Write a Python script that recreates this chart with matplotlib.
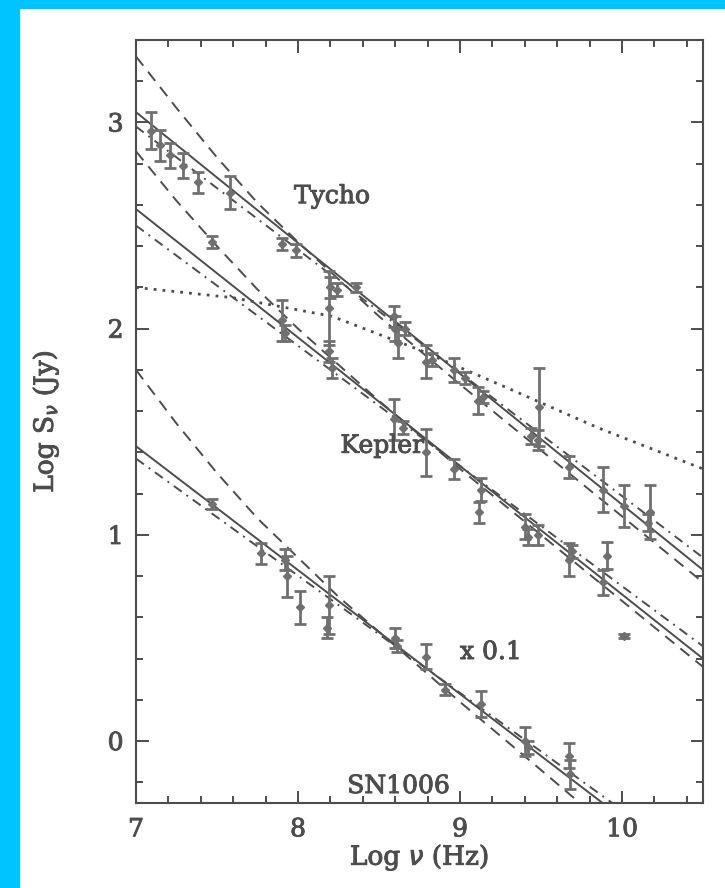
import matplotlib
matplotlib.use("Agg")
import matplotlib.pyplot as plt
import matplotlib.patheffects as pe
from matplotlib.patches import Rectangle
from matplotlib.ticker import MultipleLocator

# --- measured points (log nu, log S, error) ---
tycho_x = [7.09, 7.15, 7.21, 7.29, 7.38, 7.58, 7.90, 7.99, 8.19, 8.20, 8.24, 8.36,
           8.59, 8.60, 8.62, 8.66, 8.79, 8.83, 8.96, 9.03, 9.11, 9.14, 9.44, 9.48,
           9.49, 9.67, 9.88, 10.01, 10.17, 10.16]
tycho_y = [2.96, 2.89, 2.84, 2.79, 2.71, 2.66, 2.41, 2.38, 2.10, 2.20, 2.19, 2.20,
           2.06, 2.00, 1.93, 2.00, 1.84, 1.85, 1.80, 1.76, 1.65, 1.67, 1.48, 1.46,
           1.62, 1.33, 1.22, 1.14, 1.11, 1.06]
tycho_err = [0.09, 0.075, 0.06, 0.06, 0.05, 0.08, 0.03, 0.03, 0.18, 0.05, 0.03, 0.02,
             0.05, 0.06, 0.07, 0.03, 0.08, 0.03, 0.06, 0.03, 0.065, 0.03, 0.04, 0.05,
             0.19, 0.055, 0.11, 0.10, 0.13, 0.04]

kepler_x = [7.47, 7.90, 7.92, 8.19, 8.21, 8.59, 8.65, 8.79, 8.96, 9.13, 9.12, 9.40,
            9.42, 9.48, 9.67, 9.69, 9.91, 9.88, 10.01]
kepler_y = [2.42, 2.04, 1.98, 1.89, 1.81, 1.56, 1.52, 1.40, 1.32, 1.22, 1.11, 1.04,
            0.99, 1.00, 0.88, 0.92, 0.90, 0.77, 0.51]
kepler_err = [0.03, 0.10, 0.04, 0.05, 0.05, 0.10, 0.03, 0.115, 0.05, 0.055, 0.05, 0.06,
              0.04, 0.05, 0.08, 0.03, 0.065, 0.06, 0.01]

sn_x = [7.47, 7.77, 7.92, 7.93, 8.01, 8.19, 8.18, 8.60, 8.61, 8.79, 8.91, 9.13,
        9.40, 9.42, 9.67, 9.68]
sn_y = [1.15, 0.91, 0.88, 0.80, 0.65, 0.66, 0.55, 0.50, 0.46, 0.41, 0.25, 0.18,
        0.00, -0.03, -0.07, -0.16]
sn_err = [0.025, 0.05, 0.05, 0.10, 0.08, 0.14, 0.05, 0.05, 0.03, 0.06, 0.025, 0.065,
          0.07, 0.03, 0.06, 0.07]

# --- model curves ---
fit_x = [7.0, 10.5]
tycho_fit = [3.05, 0.83]
kepler_fit = [2.58, 0.40]
sn_fit_x = [7.0, 9.88]
sn_fit = [1.43, -0.30]

tycho_dd = [2.98, 0.89]
kepler_dd = [2.50, 0.46]
sn_dd_x = [7.0, 9.94]
sn_dd = [1.37, -0.30]

curve_x = [7.0, 7.25, 7.5, 7.75, 8.0, 8.5, 9.0, 9.5, 10.0, 10.5]
tycho_curve = [3.32, 3.07, 2.83, 2.61, 2.42, 2.06, 1.73, 1.41, 1.09, 0.77]
kepler_curve = [2.86, 2.62, 2.40, 2.19, 2.00, 1.65, 1.32, 1.00, 0.68, 0.36]
sn_curve_x = [7.0, 7.25, 7.5, 7.75, 8.0, 8.25, 8.5, 9.0, 9.5, 9.74]
sn_curve = [1.80, 1.54, 1.30, 1.08, 0.89, 0.70, 0.53, 0.19, -0.14, -0.30]

dot_x = [7.0, 7.6, 8.21, 8.74, 9.3, 9.85, 10.5]
dot_y = [2.20, 2.15, 2.06, 1.90, 1.71, 1.52, 1.32]

INK = "#4d4d4d"
PT = "#707070"
bold = [pe.withStroke(linewidth=0.7, foreground=INK)]

plt.rcParams["font.family"] = ["DejaVu Serif"]

fig = plt.figure(figsize=(7.25, 8.88), dpi=100)
fig.patches.append(Rectangle((0, 1 - 8 / 888), 1, 8 / 888, transform=fig.transFigure,
                             color="#00c4ff", zorder=0))
fig.patches.append(Rectangle((0, 0), 19 / 725, 1, transform=fig.transFigure,
                             color="#00c4ff", zorder=0))

ax = fig.add_axes([0.1876, 0.0957, 0.7821, 0.8593])

lw = 1.4
for xs, ys in [(fit_x, tycho_fit), (fit_x, kepler_fit), (sn_fit_x, sn_fit)]:
    ax.plot(xs, ys, color=INK, lw=lw, ls="-")
for xs, ys in [(fit_x, tycho_dd), (fit_x, kepler_dd), (sn_dd_x, sn_dd)]:
    ax.plot(xs, ys, color=INK, lw=lw, ls=(0, (5, 3, 1, 3)))
for xs, ys in [(curve_x, tycho_curve), (curve_x, kepler_curve), (sn_curve_x, sn_curve)]:
    ax.plot(xs, ys, color=INK, lw=lw, ls=(0, (6, 4)))
ax.plot(dot_x, dot_y, color=INK, lw=2.0, ls=(0, (1, 2.2)))

for xs, ys, es in [(tycho_x, tycho_y, tycho_err), (kepler_x, kepler_y, kepler_err),
                   (sn_x, sn_y, sn_err)]:
    ax.errorbar(xs, ys, yerr=es, fmt="D", ms=4.5, color=PT, ecolor=PT,
                elinewidth=2.0, capsize=4.5, capthick=2.0)

ax.set_xlim(7, 10.5)
ax.set_ylim(-0.3, 3.4)
ax.xaxis.set_major_locator(MultipleLocator(1))
ax.xaxis.set_minor_locator(MultipleLocator(0.2))
ax.yaxis.set_major_locator(MultipleLocator(1))
ax.yaxis.set_minor_locator(MultipleLocator(0.2))
ax.tick_params(which="both", direction="in", top=True, right=True, color=INK,
               width=1.4, labelsize=18, labelcolor=INK)
ax.tick_params(axis="x", pad=11)
ax.tick_params(axis="y", pad=9)
ax.tick_params(which="major", length=9)
ax.tick_params(which="minor", length=5)
for lab in ax.get_xticklabels() + ax.get_yticklabels():
    lab.set_path_effects(bold)
for s in ax.spines.values():
    s.set_color(INK)
    s.set_linewidth(1.5)

ax.set_xlabel(r"Log $\nu$ (Hz)", fontsize=19, color=INK, va="center",
              path_effects=bold)
ax.set_ylabel(r"Log S$_\nu$ (Jy)", fontsize=19, color=INK, va="center",
              path_effects=bold)
ax.xaxis.set_label_coords(0.5, -0.071)
ax.yaxis.set_label_coords(-0.16, 0.5)

for tx, ty, s in [(8.21, 2.64, "Tycho"), (8.52, 1.43, "Kepler"),
                  (9.19, 0.43, "x 0.1"), (8.62, -0.22, "SN1006")]:
    ax.text(tx, ty, s, fontsize=18, color=INK, ha="center", va="center",
            path_effects=bold)

fig.savefig("out.png", dpi=100, facecolor="white")
